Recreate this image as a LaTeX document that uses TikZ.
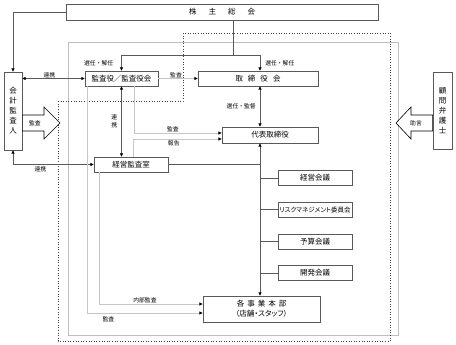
\documentclass[tikz,border=0pt]{standalone}
\usepackage{fontspec}
\setmainfont{Noto Sans CJK JP}
\newfontfamily\jpprop{Noto Sans CJK JP}[RawFeature=+palt]
\usetikzlibrary{arrows.meta, positioning}

\begin{document}
\begin{tikzpicture}[
      x=1pt, y=-1pt,
      >={Triangle[length=3.2pt, width=3pt, color=black]},
      node distance=16pt,
      box/.style={draw=black!65, line width=0.7pt, inner sep=0pt, align=center, font=\fontsize{7.5}{9}\selectfont},
      vbox/.style={box, font=\fontsize{7.5}{10}\selectfont},
      committee/.style={box, minimum width=74pt, minimum height=15pt},
      conn/.style={draw=black!65, line width=0.6pt},
      pale/.style={draw=black!22, line width=0.9pt},
      lbl/.style={font=\fontsize{5.8}{8}\selectfont, inner sep=1pt, align=center},
      bigarrow/.style={draw=black, line width=0.6pt, fill=white, line join=miter}
    ]

    \useasboundingbox (0,0) rectangle (456,345);

    % frames
    \draw[black!25, line width=0.6pt] (68,42) rectangle (398,335);
    \draw[black!75, line width=0.6pt, dotted] (58,101) -- (183,101) -- (183,33) -- (390,33) -- (390,341) -- (58,341) -- cycle;

    \coordinate (trunk) at (260,0);
    \coordinate (split) at (233,55);

    \node[box, minimum width=312pt, minimum height=16pt] (gm) at (222,12) {株\hspace{12pt}主\hspace{12pt}総\hspace{12pt}会};
    \node[vbox, minimum width=18pt, minimum height=78pt] (auditor) at (13,111) {会\\計\\監\\査\\人};
    \node[vbox, minimum width=19pt, minimum height=77pt] (lawyer) at (442.5,110.5) {顧\\問\\弁\\護\\士};
    \node[box, minimum width=73pt, minimum height=15pt] (kansa) at (121.5,78.5) {監査役／監査役会};
    \node[box, minimum width=120pt, minimum height=15pt] (board) at (258,78.5) {取\hspace{5pt}締\hspace{5pt}役\hspace{5pt}会};
    \node[box, minimum width=96pt, minimum height=16pt] (ceo) at (270,135) {代表取締役};
    \node[box, minimum width=74pt, minimum height=15pt] (audit) at (131,164.5) {経営監査室};

    \node[committee] (keiei) at (315,178) {経営会議};
    \node[committee, below=of keiei, font=\jpprop\fontsize{6.5}{8}\selectfont] (risk) {リスクマネジメント委員会};
    \node[committee, below=of risk] (yosan) {予算会議};
    \node[committee, below=of yosan] (kaihatsu) {開発会議};

    \node[box, minimum width=117pt, minimum height=26pt, font=\jpprop\fontsize{7.5}{10}\selectfont] (jigyo) at (261.5,309) {各\hspace{3pt}事\hspace{3pt}業\hspace{3pt}本\hspace{3pt}部\\（店舗・スタッフ）};

    % outline arrows
    \draw[bigarrow] (auditor.east |- 0,115) -- (44,115) -- (44,107) -- (60,123) -- (44,139) -- (44,131) -- (auditor.east |- 0,131) -- cycle;
    \node[lbl] (kansaarrow) at (35,123) {監査};
    \draw[bigarrow] (lawyer.west |- 0,115) -- (411,115) -- (411,107) -- (396,123) -- (411,139) -- (411,131) -- (lawyer.west |- 0,131) -- cycle;
    \node[lbl] (jogen) at (416,123) {助言};

    % shareholders
    \draw[conn, ->] (gm.west) -| (auditor.north);
    \draw[conn] (gm.south -| split) -- (split);
    \draw[conn, ->] (split) -| node[lbl, pos=0.75, left=7pt] {選任・解任} (kansa.north);
    \draw[conn, ->] (split) -| node[lbl, pos=0.75, right=4pt] {選任・解任} (board.north -| trunk);

    % audit relations
    \draw[conn, <->] (auditor.east |- kansa.west) -- node[lbl, midway, above=-0.5pt, xshift=-4pt] {連携} (kansa.west);
    \draw[pale, ->] (kansa.east) -- node[lbl, midway, above=-0.5pt, xshift=-2pt] {監査} (board.west);
    \draw[conn, <->] (kansa.south) -- node[lbl, midway, left=3pt] {連\\携} (kansa.south |- audit.north);
    \draw[conn, <->] (auditor.south) |- node[lbl, pos=0.67, below=1pt] {連携} (audit.west);

    \draw[pale, ->] ([xshift=3pt]kansa.south west) |- node[lbl, pos=0.59, below=2pt] {監査} ([yshift=-4pt]jigyo.west);
    \draw[pale, ->] ([xshift=50pt]kansa.south west) |- node[lbl, pos=0.72, above=0pt] {監査} ([yshift=2pt]ceo.west);
    \draw[pale, ->] ([xshift=2pt]audit.north) |- node[lbl, pos=0.73, below=0.5pt] {報告} ([yshift=-4pt]ceo.west);
    \draw[pale, ->] ([xshift=6pt]audit.south west) |- node[lbl, pos=0.72, above=0pt] {内部監査} ([yshift=5pt]jigyo.west);

    % line of command
    \draw[conn, <->] (board.south -| trunk) -- node[lbl, midway, left=3pt] {選任・監督} (ceo.north -| trunk);
    \draw[conn, <->] (ceo.south -| trunk) -- (jigyo.north -| trunk);
    \draw[conn] (audit.east) -- (audit.east -| trunk);
    \foreach \n in {keiei, risk, yosan, kaihatsu}
      \draw[conn] (\n.west -| trunk) -- (\n.west);

  \end{tikzpicture}
\end{document}
